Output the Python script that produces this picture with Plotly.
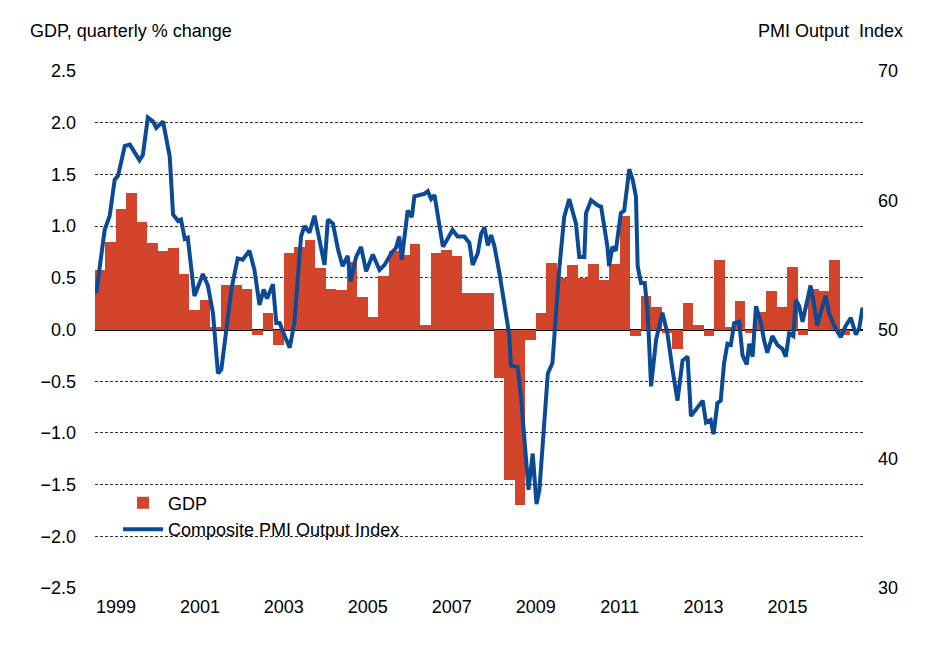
import plotly.graph_objects as go

# GDP quarterly % change, first quarter is 1998 Q3
gdp_start = 1998.5
gdp = [0.58, 0.85, 1.17, 1.32, 1.04, 0.84, 0.76, 0.79, 0.54, 0.19, 0.29, 0.02,
       0.43, 0.43, 0.39, -0.05, 0.16, -0.15, 0.74, 0.80, 0.87, 0.59, 0.39, 0.38,
       0.65, 0.31, 0.12, 0.52, 0.76, 0.72, 0.83, 0.04, 0.74, 0.77, 0.71, 0.35,
       0.35, 0.35, -0.47, -1.46, -1.70, -0.10, 0.16, 0.64, 0.50, 0.62, 0.50, 0.63,
       0.48, 0.63, 1.10, -0.06, 0.32, 0.22, -0.03, -0.19, 0.26, 0.04, -0.06, 0.67,
       0.02, 0.28, -0.03, 0.17, 0.37, 0.22, 0.60, -0.05, 0.39, 0.37, 0.67, -0.05]

# Composite PMI output index (decimal year, value)
pmi_t = [1998.53, 1998.73, 1998.85, 1998.97, 1999.05, 1999.21, 1999.33, 1999.56, 1999.64, 1999.76,
         1999.88, 1999.96, 2000.12, 2000.28, 2000.36, 2000.48, 2000.55, 2000.64, 2000.71, 2000.87,
         2000.99, 2001.07, 2001.19, 2001.31, 2001.43, 2001.51, 2001.63, 2001.75, 2001.90, 2002.02,
         2002.18, 2002.30, 2002.42, 2002.52, 2002.60, 2002.74, 2002.82, 2002.90, 2003.02, 2003.14,
         2003.25, 2003.41, 2003.49, 2003.61, 2003.73, 2003.85, 2003.97, 2004.05, 2004.17, 2004.29,
         2004.40, 2004.52, 2004.59, 2004.72, 2004.84, 2004.96, 2005.12, 2005.28, 2005.40, 2005.56,
         2005.67, 2005.75, 2005.81, 2005.95, 2006.05, 2006.11, 2006.35, 2006.43, 2006.51, 2006.59,
         2006.67, 2006.79, 2006.90, 2007.02, 2007.14, 2007.30, 2007.42, 2007.50, 2007.62, 2007.70,
         2007.78, 2007.86, 2007.94, 2008.02, 2008.14, 2008.25, 2008.37, 2008.41, 2008.57, 2008.65,
         2008.73, 2008.83, 2008.93, 2009.02, 2009.09, 2009.21, 2009.29, 2009.40, 2009.48, 2009.56,
         2009.68, 2009.80, 2009.96, 2010.04, 2010.16, 2010.20, 2010.32, 2010.48, 2010.56, 2010.71,
         2010.75, 2010.83, 2010.91, 2011.03, 2011.11, 2011.23, 2011.31, 2011.39, 2011.43, 2011.51,
         2011.60, 2011.67, 2011.75, 2011.87, 2012.02, 2012.14, 2012.26, 2012.38, 2012.50, 2012.62,
         2012.70, 2012.82, 2012.98, 2013.06, 2013.17, 2013.24, 2013.33, 2013.41, 2013.49, 2013.57,
         2013.65, 2013.73, 2013.85, 2013.93, 2014.03, 2014.09, 2014.17, 2014.25, 2014.37, 2014.44,
         2014.52, 2014.64, 2014.76, 2014.88, 2014.96, 2015.04, 2015.14, 2015.20, 2015.28, 2015.36,
         2015.48, 2015.55, 2015.63, 2015.71, 2015.79, 2015.91, 2015.99, 2016.11, 2016.27, 2016.39,
         2016.51, 2016.63, 2016.71, 2016.79]
pmi = [52.8, 57.7, 58.8, 61.6, 61.9, 64.2, 64.3, 63.1, 63.5, 66.4,
       66.1, 65.6, 66.1, 63.4, 58.9, 58.4, 58.5, 57.0, 57.1, 52.6,
       53.6, 54.3, 53.4, 51.3, 46.6, 46.9, 50.0, 53.1, 55.5, 55.4,
       56.1, 54.6, 51.9, 53.1, 52.4, 53.5, 50.5, 50.5, 49.5, 48.6,
       50.5, 57.2, 58.0, 57.5, 58.8, 56.7, 55.0, 58.5, 58.2, 56.2,
       54.9, 55.7, 53.7, 55.6, 56.4, 54.5, 55.8, 54.6, 55.0, 55.9,
       56.3, 57.2, 55.4, 59.2, 58.7, 60.3, 60.5, 60.7, 60.1, 60.4,
       58.7, 56.4, 57.0, 57.7, 57.2, 57.2, 56.7, 55.0, 55.9, 57.4,
       57.9, 56.5, 57.3, 56.4, 54.3, 52.0, 49.6, 47.2, 47.1, 44.8,
       41.4, 37.6, 40.4, 36.5, 37.6, 43.5, 46.6, 47.4, 51.0, 54.6,
       58.7, 60.1, 58.2, 55.6, 55.6, 59.0, 60.0, 59.6, 59.5, 56.4,
       54.9, 56.4, 56.1, 59.0, 59.2, 62.4, 61.6, 60.3, 54.9, 53.6,
       53.6, 51.3, 45.6, 49.2, 51.3, 49.7, 46.9, 44.5, 47.6, 47.9,
       43.3, 43.8, 44.5, 42.8, 43.0, 41.9, 44.3, 44.5, 47.4, 48.9,
       48.8, 50.5, 50.6, 48.0, 47.3, 48.9, 47.9, 51.8, 50.5, 49.2,
       48.2, 49.5, 48.8, 48.5, 47.9, 49.7, 49.5, 52.3, 51.8, 50.6,
       52.3, 53.4, 52.0, 50.3, 51.3, 52.6, 51.3, 50.3, 49.4, 50.3,
       50.9, 49.6, 50.1, 51.7]

year_ticks = [1999, 2001, 2003, 2005, 2007, 2009, 2011, 2013, 2015]

gdp_x = [gdp_start + 0.25 * (i + 0.5) for i in range(len(gdp))]

font = dict(family="Liberation Sans, Arial", size=18, color="#000000")

fig = go.Figure()
fig.add_trace(go.Bar(x=gdp_x, y=gdp, width=0.25, name="GDP",
                     marker=dict(color="#D2452A", line=dict(width=0))))
fig.add_trace(go.Scatter(x=pmi_t, y=pmi, name="Composite PMI Output Index", yaxis="y2",
                         mode="lines", line=dict(color="#0B4A94", width=4)))

fig.update_layout(
    width=945, height=647,
    margin=dict(l=87, r=90, t=63, b=67, autoexpand=False),
    plot_bgcolor="white", paper_bgcolor="white",
    font=font, bargap=0,
    xaxis=dict(range=[1998.5, 2016.8], tickvals=year_ticks, ticktext=[str(y) for y in year_ticks],
               showgrid=False, zeroline=False, showline=False, ticks="", ticklabelstandoff=6),
    yaxis=dict(range=[-2.5, 2.5], dtick=0.5, tickformat=".1f", showgrid=True,
               gridcolor="#333333", griddash="3px,2px", gridwidth=1,
               zeroline=True, zerolinecolor="#000000", zerolinewidth=1.5, ticks="",
               ticklabelstandoff=18),
    yaxis2=dict(range=[30, 70], dtick=10, overlaying="y", side="right",
                showgrid=False, zeroline=False, ticks="", ticklabelstandoff=14),
    legend=dict(x=0.03, y=0.2, xanchor="left", yanchor="top", bgcolor="rgba(0,0,0,0)",
                font=dict(size=18), tracegroupgap=12, itemwidth=40),
    showlegend=True,
    annotations=[
        dict(text="GDP, quarterly % change", xref="paper", yref="paper", x=-0.087, y=1.055,
             xanchor="left", yanchor="bottom", showarrow=False),
        dict(text="PMI Output  Index", xref="paper", yref="paper", x=1.055, y=1.055,
             xanchor="right", yanchor="bottom", showarrow=False),
    ],
)

fig.write_html("out.html")
